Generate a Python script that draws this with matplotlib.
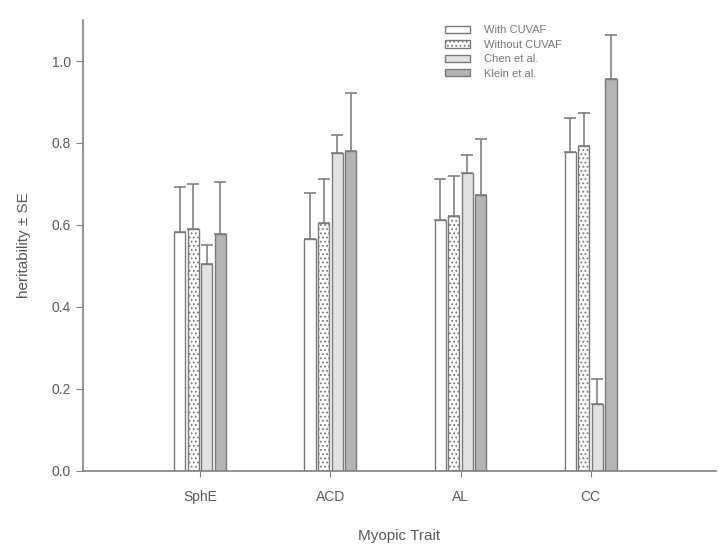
import matplotlib
matplotlib.use("Agg")
import matplotlib.pyplot as plt
import numpy as np

plt.rcParams['font.family'] = ['Liberation Sans', 'DejaVu Sans']
plt.rcParams['hatch.color'] = '#707070'
plt.rcParams['hatch.linewidth'] = 0.8

traits = ["SphE", "ACD", "AL", "CC"]
series = ["With CUVAF", "Without CUVAF", "Chen et al.", "Klein et al."]
with_cuvaf = [0.583, 0.566, 0.613, 0.778]
with_cuvaf_se = [0.110, 0.112, 0.098, 0.083]
without_cuvaf = [0.590, 0.605, 0.622, 0.793]
without_cuvaf_se = [0.110, 0.107, 0.098, 0.080]
chen = [0.505, 0.776, 0.727, 0.163]
chen_se = [0.046, 0.044, 0.043, 0.061]
klein = [0.578, 0.780, 0.673, 0.956]
klein_se = [0.127, 0.142, 0.137, 0.107]

values = [with_cuvaf, without_cuvaf, chen, klein]
errors = [with_cuvaf_se, without_cuvaf_se, chen_se, klein_se]
faces = ["white", "white", "#e2e2e2", "#b4b4b4"]
hatches = [None, "....", None, None]

txt = "#5a5a5a"
edge = "#7a7a7a"

fig = plt.figure(figsize=(7.19, 5.51), dpi=100)
ax = fig.add_axes([0.1154, 0.1452, 0.88, 0.8185])

x = np.arange(1, len(traits) + 1)
width = 0.085
step = 0.104
offsets = (np.arange(4) - 1.5) * step
for i in range(4):
    ax.bar(x + offsets[i], values[i], width=width, color=faces[i],
           edgecolor=edge, linewidth=1.0, hatch=hatches[i], label=series[i],
           zorder=2)
    ax.errorbar(x + offsets[i], values[i], yerr=[np.zeros(4), errors[i]],
                fmt="none", ecolor="#808080", elinewidth=1.2, capsize=4,
                capthick=1.2, zorder=1)

ax.set_xlim(0.1, 4.96)
ax.set_ylim(0, 1.1)
ax.set_xticks(x)
ax.set_xticklabels(traits)
ax.set_yticks([0.0, 0.2, 0.4, 0.6, 0.8, 1.0])
ax.set_yticklabels(["0.0", "0.2", "0.4", "0.6", "0.8", "1.0"])
for s in ["top", "right"]:
    ax.spines[s].set_visible(False)
for s in ["left", "bottom"]:
    ax.spines[s].set_color("#808080")
    ax.spines[s].set_linewidth(1.2)
ax.tick_params(axis="both", colors="#808080", labelcolor=txt, labelsize=10)
ax.tick_params(axis="x", length=4, pad=10)
ax.tick_params(axis="y", length=5)

ax.set_xlabel("Myopic Trait", color=txt, fontsize=11, labelpad=18)
ax.set_ylabel("heritability ± SE", color=txt, fontsize=11, labelpad=15)

leg = ax.legend(loc="upper left", bbox_to_anchor=(0.557, 1.01), frameon=False,
                fontsize=8, handlelength=2.2, handleheight=0.6,
                labelspacing=0.4, handletextpad=1.3)
for t in leg.get_texts():
    t.set_color("#777777")

fig.savefig("out.png", dpi=100)
